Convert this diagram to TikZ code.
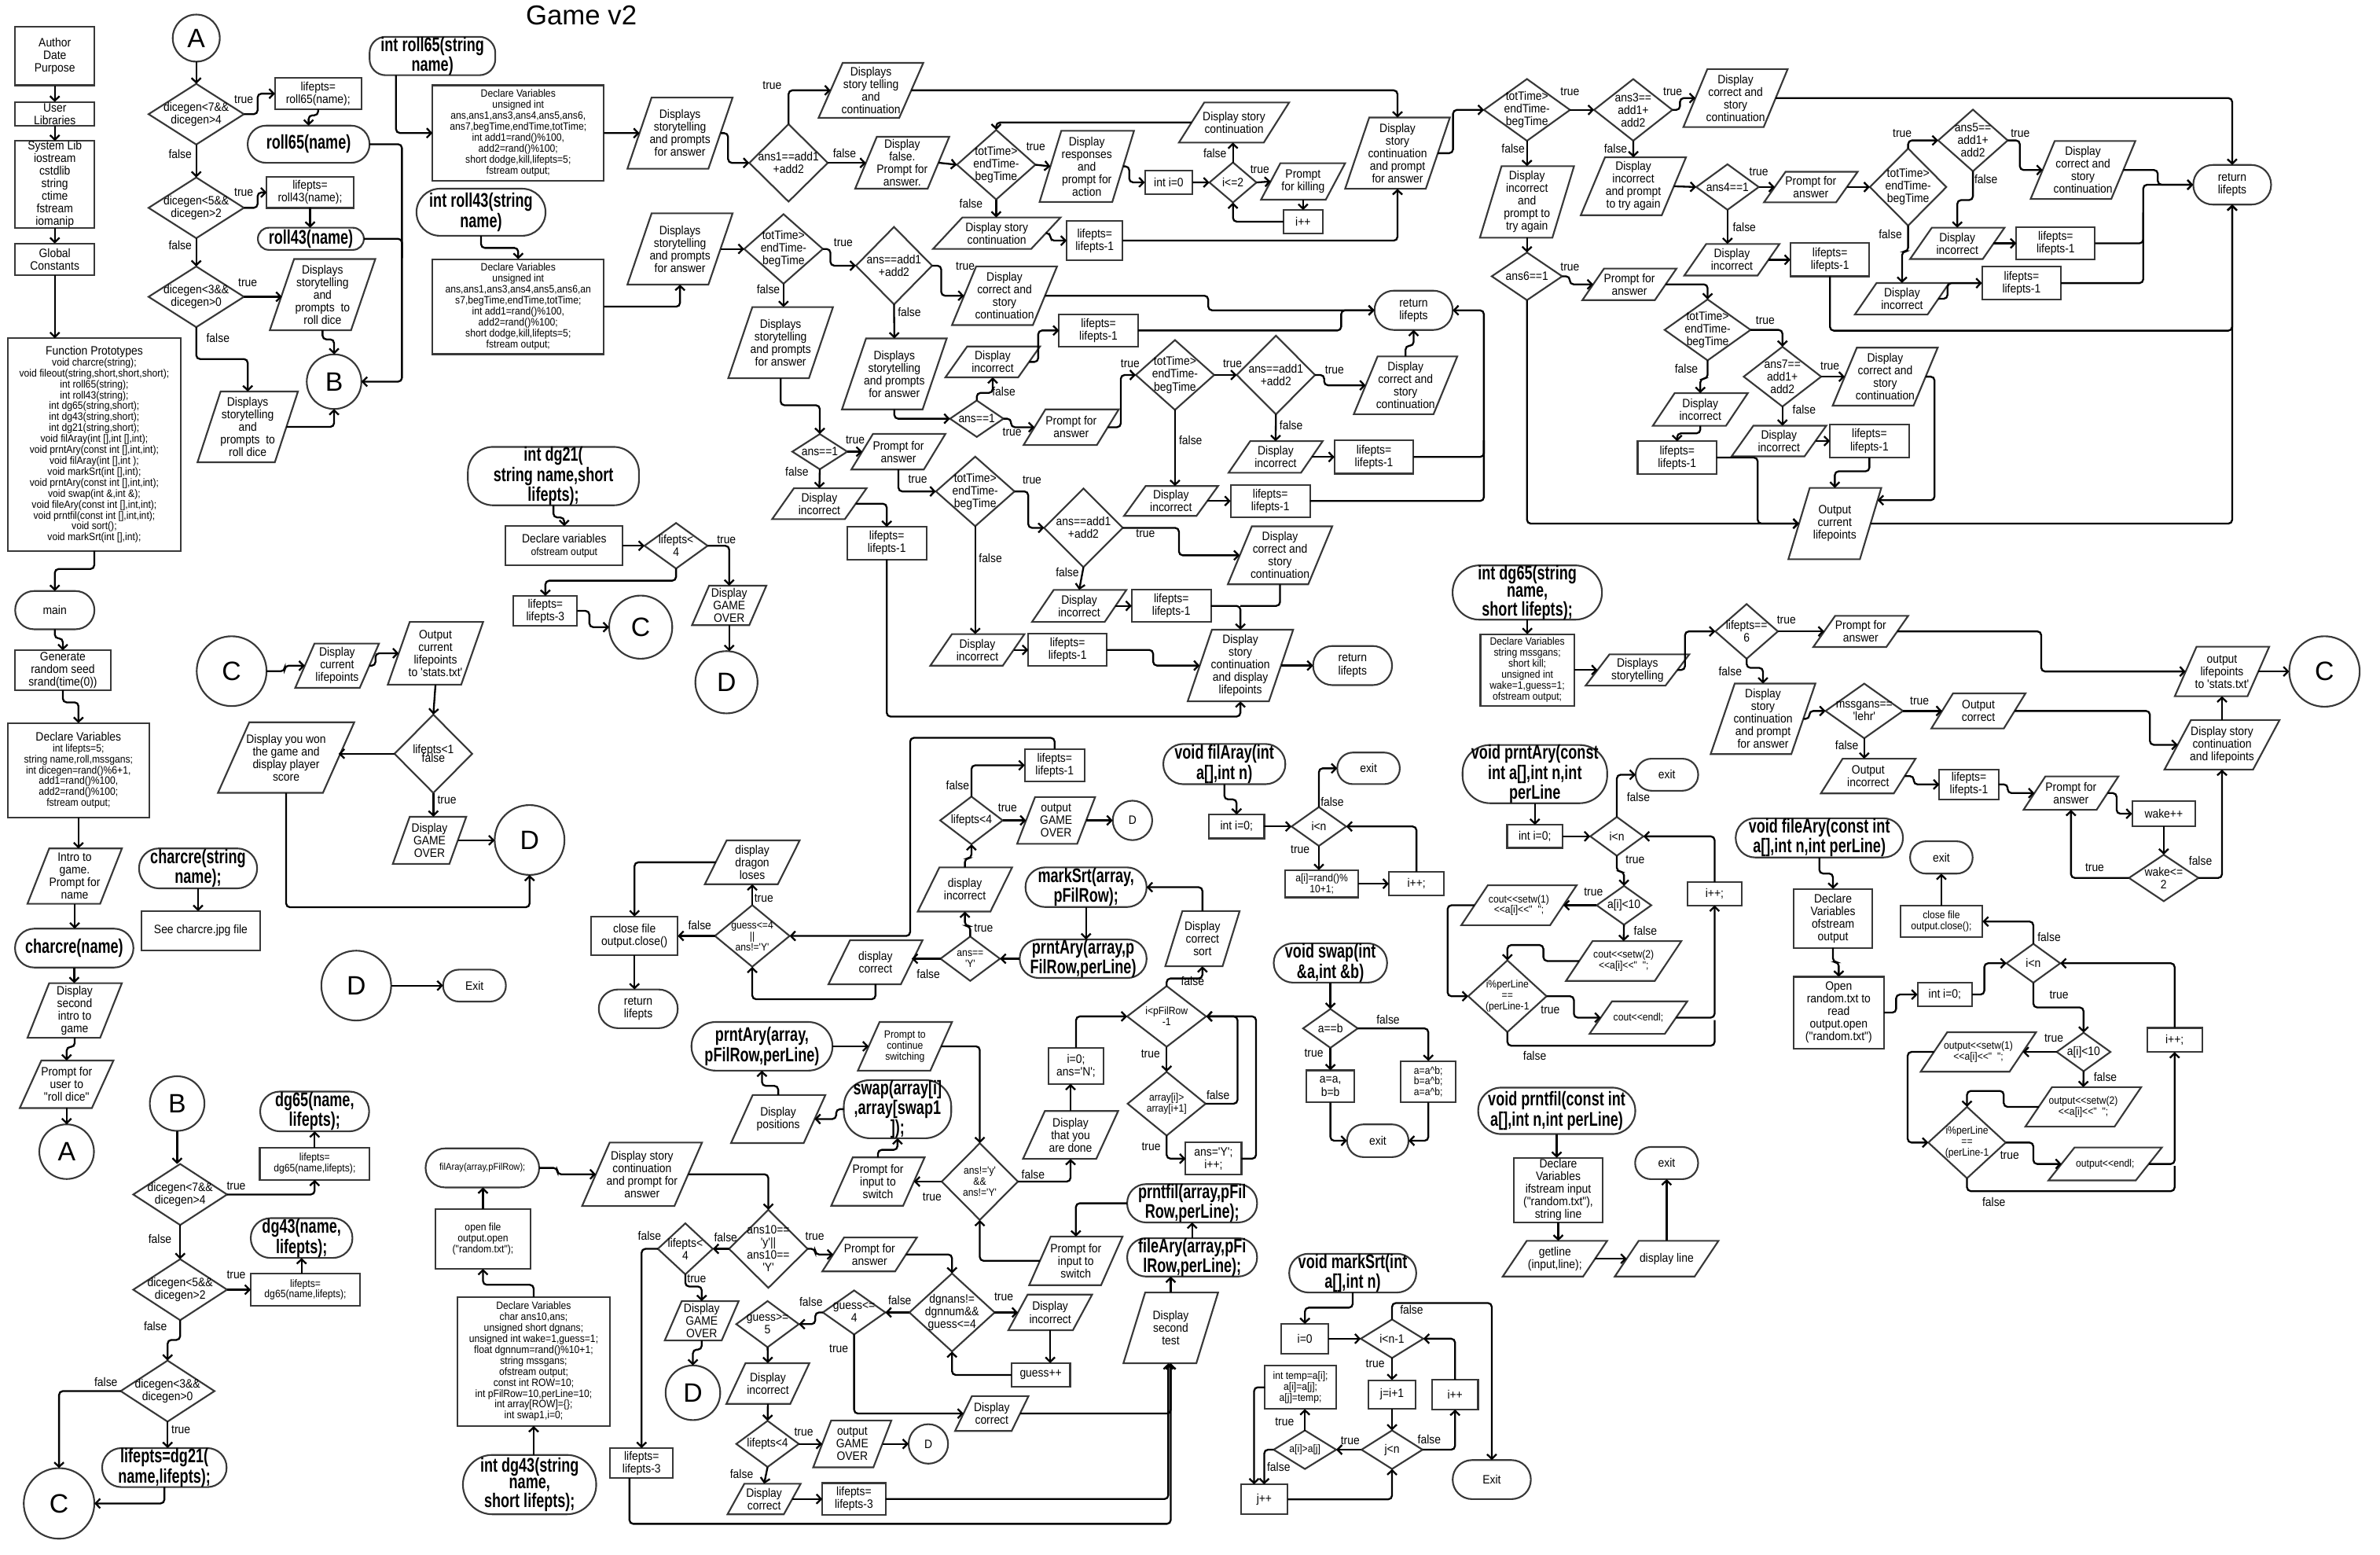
\documentclass[tikz,border=0pt]{standalone}
\usepackage{fontspec}
\setmainfont{Liberation Sans}
\newfontfamily\basefam{Liberation Sans}[FakeStretch=0.9]
\newfontfamily\titlefam{Liberation Sans}[FakeStretch=0.72]
\newfontfamily\plainfam{Liberation Sans}
\usetikzlibrary{shapes.geometric,arrows.meta,calc}
\newcommand\FN{\basefam\fontsize{8}{8.3}\selectfont}
\newcommand\FS{\basefam\fontsize{7}{7.2}\selectfont}
\newcommand\FX{\basefam\fontsize{6.4}{6.8}\selectfont}
\newcommand\FT{\titlefam\bfseries\fontsize{13}{11.2}\selectfont}
\newcommand\FC{\plainfam\fontsize{17.5}{18}\selectfont}
\newcommand\FG{\plainfam\fontsize{18}{18}\selectfont}
\newcounter{lbl}
% process box
\newcommand\BX[7][\FN]{\node[bx,font=#1,minimum width=#5pt,minimum height=#6pt] (#2) at (#3,#4) {#7};}
% terminal (stadium)
\newcommand\TM[7][\FN]{\pgfmathsetmacro\tmr{#6/2-0.1}\node[tm,font=#1,rounded corners=\tmr pt,minimum width=#5pt,minimum height=#6pt] (#2) at (#3,#4) {#7};}
% input/output parallelogram
\newcommand\IO[7][\FN]{\pgfmathsetmacro\ioo{0.23*#5}\pgfmathsetmacro\iow{#5-\ioo}\pgfmathsetmacro\ioh{\ioo/2}%
  \node[txt,font=#1,minimum width=\iow pt,minimum height=#6pt] (#2) at (#3,#4) {#7};%
  \draw[shp] ([xshift=-\ioh pt]#2.south west) -- ([xshift=-\ioh pt]#2.south east) -- ([xshift=\ioh pt]#2.north east) -- ([xshift=\ioh pt]#2.north west) -- cycle;}
% decision
\newcommand\DM[7][\FN]{\node[dm,minimum width=#5pt,minimum height=#6pt] (#2) at (#3,#4) {};\node[txt,font=#1] (#2-t) at (#2.center) {#7};}
% connector circle
\newcommand\CI[6][\FC]{\node[ci,font=#1,minimum size=#5pt] (#2) at (#3,#4) {#6};}
% branch label
\newcommand\LB[3]{\stepcounter{lbl}\node[lab] (lb\arabic{lbl}) at (#1,#2) {#3};}

\begin{document}
\begin{tikzpicture}[x=1pt,y=-1pt,
  shp/.style={draw=black!78,line width=1.1pt},
  bx/.style={shp,rectangle,inner sep=0pt,outer sep=0pt,align=center},
  tm/.style={shp,rectangle,inner sep=0pt,outer sep=0pt,align=center},
  dm/.style={shp,diamond,inner sep=0pt,outer sep=0pt},
  ci/.style={shp,circle,inner sep=0pt,outer sep=0pt},
  txt/.style={inner sep=0pt,outer sep=0pt,align=center},
  lab/.style={inner sep=0pt,font=\FN},
  ar/.style={draw=black,line width=1.2pt,rounded corners=2.5pt,-{Straight Barb[length=3pt,width=6.2pt]}},
  nl/.style={draw=black,line width=1.2pt,rounded corners=2.5pt}]
\fill[white] (0,0) rectangle (1568,1024);
\useasboundingbox (0,0) rectangle (1568,1024);

\node[font=\FG,inner sep=0pt] (title) at (383,10) {Game v2};

% ---------------- program header and main ----------------
\BX{auth}{36.1}{36.8}{52.2}{38.8}{Author\\Date\\Purpose}
\BX{ulib}{36.1}{75}{52.2}{15.7}{User\\Libraries}
\BX{slib}{36.1}{121.6}{52.2}{57.5}{System Lib\\iostream\\cstdlib\\string\\ctime\\fstream\\iomanip}
\BX{glob}{36.1}{170.9}{52.2}{21}{Global\\Constants}
\BX[\FS]{fp}{62.1}{292.8}{114.2}{140}{{\FN Function Prototypes}\\void charcre(string);\\void fileout(string,short,short,short);\\int roll65(string);\\int roll43(string);\\int dg65(string,short);\\int dg43(string,short);\\int dg21(string,short);\\void filAray(int [],int [],int);\\void prntAry(const int [],int,int);\\void filAray(int [],int );\\void markSrt(int [],int);\\void prntAry(const int [],int,int);\\void swap(int \&,int \&);\\void fileAry(const int [],int,int);\\void prntfil(const int [],int,int);\\void sort();\\void markSrt(int [],int);}
\draw[ar] (auth.south) -- (ulib.north);
\draw[ar] (ulib.south) -- (slib.north);
\draw[ar] (slib.south) -- (glob.north);
\draw[ar] (glob.south) -- (glob.south |- fp.north);

\TM{main}{36.1}{401.9}{52.2}{25.2}{main}
\draw[ar] (fp.south) -- ++(0,12) -| (main.north);
\BX{gen}{41.4}{441.5}{62.8}{26.3}{Generate\\random seed\\srand(time(0))}
\draw[ar] (main.south) -- ++(0,6) -| (gen.north);
\BX[\FS]{mdecl}{51.7}{507.4}{93.4}{62.2}{{\FN Declare Variables}\\int lifepts=5;\\string name,roll,mssgans;\\int dicegen=rand()\%6+1,\\add1=rand()\%100,\\add2=rand()\%100;\\fstream output;}
\draw[ar] (gen.south) -- ++(0,8) -| (mdecl.north);
\IO{intro}{49.2}{577.1}{62.2}{36.4}{Intro to\\game.\\Prompt for\\name}
\draw[ar] (mdecl.south) -- (mdecl.south |- intro.north);
\TM[\FT]{charcre}{48.9}{624.5}{78}{25.6}{charcre(name)}
\draw[ar] (intro.south) -- (intro.south |- charcre.north);
\IO{disp2}{49.2}{665.6}{62.2}{36}{Display\\second\\intro to\\game}
\draw[ar] (charcre.south) -- (charcre.south |- disp2.north);
\IO{rolld}{43.9}{714.2}{61.7}{31.3}{Prompt for\\user to\\"roll dice"}
\draw[ar] (disp2.south) -- ++(0,6) -| (rolld.north);
\CI{A2}{43.9}{758.6}{36}{A}
\draw[ar] (rolld.south) -- (A2.north);

\TM[\FT]{ccdef}{130.5}{572}{77.8}{26.3}{charcre(string\\name);}
\BX{ccjpg}{132.3}{613.1}{77.8}{25.9}{See charcre.jpg file}
\draw[ar] (ccdef.south) -- (ccdef.south |- ccjpg.north);

% ---------------- connector A ----------------
\CI{A1}{129.3}{25.1}{31}{A}
\DM{d1}{129.3}{75.2}{62.8}{40}{dicegen<7\&\&\\dicegen>4}
\draw[ar] (A1.south) -- (d1.north);
\BX{r65as}{209.6}{61.7}{56.8}{20.5}{lifepts=\\roll65(name);}
\draw[ar] (d1.east) -- ++(9,0) |- (r65as.west);
\TM[\FT]{r65call}{203.3}{95}{80.3}{24.5}{roll65(name)}
\draw[ar] (r65as.south) -- ++(0,4) -| (r65call.north);
\DM{d2}{129.3}{136.9}{62.8}{40}{dicegen<5\&\&\\dicegen>2}
\draw[ar] (d1.south) -- (d2.north);
\BX{r43as}{204.3}{126.8}{57.2}{20.3}{lifepts=\\roll43(name);}
\draw[ar] (d2.east) -- ++(9,0) |- (r43as.west);
\TM[\FT]{r43call}{204.8}{157.3}{69.8}{14.6}{roll43(name)}
\draw[ar] (r43as.south) -- (r43as.south |- r43call.north);
\DM{d3}{129.3}{195.5}{62.8}{40}{dicegen<3\&\&\\dicegen>0}
\draw[ar] (d2.south) -- (d3.north);
\IO{sto1}{212.5}{194.1}{69.5}{46.9}{Displays\\storytelling\\and\\prompts~~to\\roll dice}
\draw[ar] (d3.east) -- (d3.east -| sto1.west);
\CI{B1}{220.1}{251.4}{36}{B}
\draw[ar] (sto1.south) -- ++(0,6) -| (B1.north);
\IO{sto2}{163.2}{281.2}{66.2}{46.6}{Displays\\storytelling\\and\\prompts~~to\\roll dice}
\draw[ar] (d3.south) -- ++(0,21) -| (sto2.north);
\draw[ar] (sto2.east) -| (B1.south);
\draw[ar] (r65call.east) -- (264.8,95) |- (B1.east);
\draw[nl] (r43call.east) -- (264.8,157.3) -- (264.8,170);
\LB{160.6}{65.8}{true}\LB{118.7}{101.6}{false}\LB{160.6}{126.4}{true}
\LB{118.7}{161.8}{false}\LB{163.2}{186.4}{true}\LB{143.6}{222.4}{false}

% ---------------- int roll65(string name) ----------------
\TM[\FT]{r65def}{284.9}{36.9}{82.8}{21.3}{int roll65(string\\name)}
\BX[\FS]{r65dv}{341.4}{87.6}{112.9}{62.8}{Declare Variables\\unsigned int\\ans,ans1,ans3,ans4,ans5,ans6,\\ans7,begTime,endTime,totTime;\\int add1=rand()\%100,\\add2=rand()\%100;\\short dodge,kill,lifepts=5;\\fstream output;}
\draw[ar] ([xshift=-24pt]r65def.south) |- (r65dv.west);
\IO{r65s1}{448}{87.7}{69.3}{46.9}{Displays\\storytelling\\and prompts\\for answer}
\draw[ar] (r65dv.east) -- (r65s1.west);
\DM{a1}{519.5}{107.3}{51.7}{51}{ans1==add1\\+add2}
\draw[ar] (r65s1.east) -- ++(5,0) |- (a1.west);
\IO{r65c1}{573.8}{59.5}{69}{36.2}{Displays\\story telling\\and\\continuation}
\draw[ar] (a1.north) |- (r65c1.west);
\IO{r65f}{594.4}{107.2}{62}{34.2}{Display\\false.\\Prompt for\\answer.}
\draw[ar] (a1.east) -- (a1.east -| r65f.west);
\DM{t1}{656.3}{108.5}{51.7}{45.8}{totTime>\\endTime-\\begTime}
\draw[ar] (r65f.east) -- (t1.west);
\IO{r65resp}{716}{109.6}{62.2}{46.9}{Display\\responses\\and\\prompt for\\action}
\draw[ar] (t1.east) -- (r65resp.west);
\BX{i0a}{770}{120.1}{31.5}{15.2}{int i=0}
\draw[ar] (r65resp.east) -- ++(4,0) |- (i0a.west);
\DM{ile2}{812.3}{120.2}{31}{26.4}{i<=2}
\draw[ar] (i0a.east) -- (ile2.west);
\IO{r65sc}{813}{80.7}{72.6}{26.4}{Display story\\continuation}
\draw[ar] (ile2.north) -- (ile2.north |- r65sc.south);
\IO{pkill}{858.5}{119.5}{55.4}{24}{Prompt\\for killing}
\draw[ar] (ile2.east) -- (pkill.west);
\BX{ipp1}{858.5}{146}{26}{15.4}{i++}
\draw[ar] (pkill.south) -- (ipp1.north);
\draw[ar] (ipp1.west) -| (ile2.south);
\draw[ar] (r65sc.west) -| (t1.north);
\IO{r65sc2}{656.7}{153.6}{84}{20.7}{Display story\\continuation}
\draw[ar] (t1.south) -- (t1.south |- r65sc2.north);
\BX{lp1}{721.2}{158.5}{36.9}{26.2}{lifepts=\\lifepts-1}
\draw[ar] (r65sc2.east) -- ++(3,0) |- (lp1.west);
\IO{r65big}{920.7}{100.9}{69}{46.9}{Display\\story\\continuation\\and prompt\\for answer}
\draw[ar] (lp1.east) -| (r65big.south);
\draw[ar] (r65c1.east) -| (r65big.north);
\DM{t2}{1006}{72.4}{56.7}{40.7}{totTime>\\endTime-\\begTime}
\draw[ar] (r65big.east) -- ++(10,0) |- (t2.west);
\DM{a3}{1076}{72.4}{51.6}{40.6}{ans3==\\add1+\\add2}
\draw[ar] (t2.east) -- (a3.west);
\IO{c3}{1143.4}{64.6}{68.7}{38.2}{Display\\correct and\\story\\continuation}
\draw[ar] (a3.east) -- ++(5,0) |- (c3.west);
\TM{ret65}{1470.6}{121.7}{51.3}{26.1}{return\\lifepts}
\draw[ar] (c3.east) -| (ret65.north);
\IO{inc3}{1006}{133}{62}{47.1}{Display\\incorrect\\and\\prompt to\\try again}
\draw[ar] (t2.south) -- (inc3.north);
\IO{inc3b}{1076.1}{122.7}{69.3}{38.1}{Display\\incorrect\\and prompt\\to try again}
\draw[ar] (a3.south) -- (inc3b.north);
\DM{a4}{1138.1}{123.2}{41.2}{30}{ans4==1}
\draw[ar] (inc3b.east) -- (a4.west);
\IO{pa4}{1193}{123.2}{61.7}{20.1}{Prompt for\\answer}
\draw[ar] (a4.east) -- (pa4.west);
\DM{t4}{1257.1}{123.2}{50.4}{50.8}{totTime>\\endTime-\\begTime}
\draw[ar] (pa4.east) -- (t4.west);
\DM{a5}{1299.8}{92.5}{45.8}{40.6}{ans5==\\add1+\\add2}
\draw[ar] (t4.north) |- (a5.west);
\IO{c5}{1372.3}{112}{69}{38.2}{Display\\correct and\\story\\continuation}
\draw[ar] (a5.east) -- ++(8,0) |- (c5.west);
\draw[ar] (c5.east) -| (1421.6,121.7) -- (ret65.west);
\IO{inc5}{1289.5}{160.3}{62.2}{20.6}{Display\\incorrect}
\draw[ar] (a5.south) -- ++(0,19) -| (inc5.north);
\BX{lp5}{1354.3}{160.3}{51.8}{21}{lifepts=\\lifepts-1}
\draw[ar] (inc5.east) -- (lp5.west);
\draw[ar] (lp5.east) -| (1412,121.7) -- (ret65.west);
\IO{inc4}{1253.1}{196.8}{62.2}{20.8}{Display\\incorrect}
\draw[ar] (t4.south) -- ++(0,17) -| (inc4.north);
\BX{lp4}{1331.8}{186.5}{52}{21.5}{lifepts=\\lifepts-1}
\draw[ar] (inc4.east) -- ++(6,0) |- (lp4.west);
\draw[nl] (lp4.east) -| (1412,140);
\IO{inc4b}{1141}{171.1}{62.7}{20.8}{Display\\incorrect}
\draw[ar] (a4.south) -- (a4.south |- inc4b.north);
\BX{lp4b}{1205.6}{171.1}{52}{21.8}{lifepts=\\lifepts-1}
\draw[ar] (inc4b.east) -- (lp4b.west);
\draw[ar] (lp4b.south) |- (1470.6,217.8) -- (ret65.south);
\DM{a6}{1006}{182}{46.4}{31.4}{ans6==1}
\draw[ar] (inc3.south) -- (a6.north);
\IO{pa6}{1073.5}{187.3}{62}{20.8}{Prompt for\\answer}
\draw[ar] (a6.east) -- ++(5,0) |- (pa6.west);
\DM{t6}{1125}{217.3}{56.6}{40.2}{totTime>\\endTime-\\begTime}
\draw[ar] (pa6.east) -| (t6.north);
\DM{a7}{1174.3}{248.1}{51}{39.4}{ans7==\\add1+\\add2}
\draw[ar] (t6.east) -| (a7.north);
\IO{c7}{1242}{248.1}{69.2}{38.2}{Display\\correct and\\story\\continuation}
\draw[ar] (a7.east) -- (c7.west);
\IO{inc7}{1172}{290.5}{62.4}{20.2}{Display\\incorrect}
\draw[ar] (a7.south) -- (a7.south |- inc7.north);
\BX{lp7}{1231.6}{290.5}{52}{21.9}{lifepts=\\lifepts-1}
\draw[ar] (inc7.east) -- (lp7.west);
\IO{outlp}{1208.8}{344.9}{61.2}{47}{Output\\current\\lifepoints}
\draw[ar] (lp7.south) -- ++(0,9) -| (outlp.north);
\draw[ar] (c7.east) -- (1274.5,248.1) |- ($(outlp.east)+(4.6,-15.4)$);
\draw[ar] (outlp.east) -| (ret65.south);
\draw[ar] (a6.south) |- (outlp.west);
\IO{inc6}{1120.2}{269.7}{62.6}{21.5}{Display\\incorrect}
\draw[ar] (t6.south) -- ++(0,12) -| (inc6.north);
\BX{lp6}{1104.9}{301.4}{52}{21.5}{lifepts=\\lifepts-1}
\draw[ar] (inc6.south) -- ++(0,5) -| (lp6.north);
\draw[ar] (lp6.east) -- (1158,301.4) |- (outlp.west);
\LB{508.7}{56.2}{true}\LB{556.4}{100.9}{false}\LB{682.4}{96.6}{true}\LB{639.7}{134.1}{false}
\LB{800.4}{101}{false}\LB{830}{111.4}{true}\LB{1034.3}{60.6}{true}\LB{1102}{60.6}{true}
\LB{996.9}{97.8}{false}\LB{1064.4}{97.8}{false}\LB{1158.7}{113.3}{true}\LB{1149.2}{149.6}{false}
\LB{1034.3}{175.7}{true}\LB{1163}{211}{true}\LB{1111}{242.8}{false}\LB{1253.2}{87.9}{true}
\LB{1331}{87.9}{true}\LB{1308.4}{118.1}{false}\LB{1245.4}{154.2}{false}\LB{1205.6}{241.3}{true}
\LB{1188.6}{269.8}{false}

% ---------------- int roll43(string name) ----------------
\TM[\FT]{r43def}{316.9}{139.8}{85}{31}{int roll43(string\\name)}
\BX[\FS]{r43dv}{341.4}{202}{112.9}{62.6}{Declare Variables\\unsigned int\\ans,ans1,ans3,ans4,ans5,ans6,an\\s7,begTime,endTime,totTime;\\int add1=rand()\%100,\\add2=rand()\%100;\\short dodge,kill,lifepts=5;\\fstream output;}
\draw[ar] (r43def.south) -- ++(0,8) -| (r43dv.north);
\IO{r43s1}{448}{164}{69.3}{46.9}{Displays\\storytelling\\and prompts\\for answer}
\draw[ar] (r43dv.east) -| (r43s1.south);
\DM{t11}{516.2}{164}{51.8}{45.8}{totTime>\\endTime-\\begTime}
\draw[ar] (r43s1.east) -- (t11.west);
\DM{b1}{589}{175}{50.2}{51}{ans==add1\\+add2}
\draw[ar] (t11.east) -- ++(5,0) |- (b1.west);
\IO{bc1}{661.8}{194.8}{69.2}{38.6}{Display\\correct and\\story\\continuation}
\draw[ar] (b1.east) -- ++(6,0) |- (bc1.west);
\TM{ret43}{931.3}{204.4}{51.5}{25.9}{return\\lifepts}
\draw[ar] (bc1.east) -- (796,194.8) |- (ret43.west);
\IO{bs2}{589.2}{246.3}{69}{46.7}{Displays\\storytelling\\and prompts\\for answer}
\draw[ar] (b1.south) -- (bs2.north);
\DM{e1}{643.5}{275.8}{35.2}{24}{ans==1}
\draw[ar] (bs2.south) |- (e1.west);
\IO{einc}{654}{238.4}{62.3}{20.3}{Display\\incorrect}
\draw[ar] (e1.north) -- ++(0,-5) -| (einc.south);
\BX{elp}{723.7}{217.7}{52}{21.1}{lifepts=\\lifepts-1}
\draw[ar] (einc.east) -- ++(6,0) |- (elp.west);
\draw[ar] (elp.east) -| (883.6,204.4) -- (ret43.west);
\IO{epa}{705.7}{281.4}{62.7}{23.5}{Prompt for\\answer}
\draw[ar] (e1.east) -- ++(5,0) |- (epa.west);
\DM{t12}{774.1}{247}{51.6}{46}{totTime>\\endTime-\\begTime}
\draw[ar] (epa.east) -- (738.4,281.4) |- (t12.west);
\DM{b2}{840.6}{247}{51.6}{51.8}{ans==add1\\+add2}
\draw[ar] (t12.east) -- (b2.west);
\IO{bc2}{926}{253.8}{68.2}{38.1}{Display\\correct and\\story\\continuation}
\draw[ar] (b2.east) -- ++(6,0) |- (bc2.west);
\draw[ar] (bc2.north) -- ++(0,-7) -| (ret43.south);
\IO{binc2}{840.4}{301}{62}{20.8}{Display\\incorrect}
\draw[ar] (b2.south) -- (binc2.north);
\BX{blp2}{905.2}{301}{52}{22}{lifepts=\\lifepts-1}
\draw[ar] (binc2.east) -- (blp2.west);
\draw[ar] (blp2.east) -| (977.6,204.4) -- (ret43.east);
\IO{tinc2}{771.5}{330}{62}{19.7}{Display\\incorrect}
\draw[ar] (t12.south) -- (t12.south |- tinc2.north);
\BX{tlp2}{836.9}{330}{52.3}{21.3}{lifepts=\\lifepts-1}
\draw[ar] (tinc2.east) -- (tlp2.west);
\draw[nl] (tlp2.east) -| (977.6,290);
\IO{ts3}{514.3}{225.7}{69}{46.9}{Displays\\storytelling\\and prompts\\for answer}
\draw[ar] (t11.south) -- (t11.south |- ts3.north);
\DM{e2}{540.1}{297.5}{36.2}{23.2}{ans==1}
\draw[ar] (ts3.south) -- ++(0,17.8) -| (e2.north);
\IO{epa2}{591.9}{297.5}{62}{23.5}{Prompt for\\answer}
\draw[ar] (e2.east) -- (epa2.west);
\IO{einc2}{539.8}{331.8}{62.2}{20.3}{Display\\incorrect}
\draw[ar] (e2.south) -- (einc2.north);
\BX{elp2}{584.2}{357.8}{52.3}{21.5}{lifepts=\\lifepts-1}
\draw[ar] (einc2.east) -| (elp2.north);
\IO{fin}{817.2}{438.4}{69.5}{47.2}{Display\\story\\continuation\\and display\\lifepoints}
\draw[ar] (elp2.south) -- (584.2,472) -| (fin.south);
\DM{t13}{642.5}{323.7}{51.8}{45.8}{totTime>\\endTime-\\begTime}
\draw[ar] (epa2.south) |- (t13.west);
\DM{b3}{713.8}{347.7}{51.8}{51.8}{ans==add1\\+add2}
\draw[ar] (t13.east) -- ++(9,0) |- (b3.west);
\IO{bc3}{843.3}{365.8}{68.8}{38.2}{Display\\correct and\\story\\continuation}
\draw[ar] (b3.east) -- (776.7,347.7) |- (bc3.west);
\IO{binc3}{711}{399.1}{62.2}{21.1}{Display\\incorrect}
\draw[ar] (b3.south) -- (binc3.north);
\BX{blp3}{771.7}{399.1}{52.2}{21.3}{lifepts=\\lifepts-1}
\draw[ar] (binc3.east) -- (blp3.west);
\draw[ar] (blp3.east) -| (fin.north);
\draw[nl] (bc3.south) |- (817.2,399.1);
\IO{tinc3}{643.9}{428.1}{62}{20.8}{Display\\incorrect}
\draw[ar] (t13.south) -- (t13.south |- tinc3.north);
\BX{tlp3}{703.3}{428.1}{51.7}{21.3}{lifepts=\\lifepts-1}
\draw[ar] (tinc3.east) -- (tlp3.west);
\draw[ar] (tlp3.east) -- (759.7,428.1) |- (fin.west);
\TM{ret43b}{891.1}{438.4}{52}{25.8}{return\\lifepts}
\draw[ar] (fin.east) -- (ret43b.west);
\LB{555.6}{159.6}{true}\LB{636}{175.5}{true}\LB{599.1}{205.6}{false}\LB{661.3}{257.9}{false}
\LB{666.8}{284.5}{true}\LB{744.6}{239.4}{true}\LB{812}{239.3}{true}\LB{879.2}{243.5}{true}
\LB{850.6}{280.2}{false}\LB{784.4}{290.2}{false}\LB{506.2}{190.8}{false}\LB{563.4}{289.9}{true}
\LB{525}{310.7}{false}\LB{604.6}{315.5}{true}\LB{679.9}{316.1}{true}\LB{754.7}{351.2}{true}
\LB{703.2}{377.1}{false}\LB{652.5}{367.8}{false}

% ---------------- int dg21 ----------------
\TM[\FT]{dg21}{364.6}{313.6}{112.7}{33.4}{int dg21(\\string name,short\\lifepts);}
\BX{dg21dv}{371.7}{359.5}{77.2}{25.9}{Declare variables\\{\FS ofstream output}}
\draw[ar] (dg21.south) -- ++(0,8) -| (dg21dv.north);
\DM{dl4}{445.4}{359.5}{41.6}{30}{lifepts<\\4}
\draw[ar] (dg21dv.east) -- (dl4.west);
\IO{dgo}{480.4}{398.8}{49}{26}{Display\\GAME\\OVER}
\draw[ar] (dl4.east) -| (dgo.north);
\CI{D1}{478.6}{449.4}{41}{D}
\draw[ar] (dgo.south) -- (dgo.south |- D1.north);
\BX{dlp3}{359.3}{402.4}{42}{19.8}{lifepts=\\lifepts-3}
\draw[ar] (dl4.south) -- ++(0,8) -| (dlp3.north);
\CI{C1}{422.1}{413.1}{41.6}{C}
\draw[ar] (dlp3.east) -- ++(8,0) |- (C1.west);
\LB{478.6}{355.3}{true}

% ---------------- connector C (end of turn) ----------------
\CI{C2}{152.6}{442.1}{46}{C}
\IO{dcl}{222.1}{438.5}{55.2}{29.2}{Display\\current\\lifepoints}
\draw[ar] (C2.east) -- ++(12,0) |- (dcl.west);
\IO{ocl}{286.9}{430.3}{62.8}{41.3}{Output\\current\\lifepoints\\to 'stats.txt'}
\draw[ar] (dcl.east) -- ++(4,0) |- (ocl.west);
\DM{dlt1}{285.5}{496.5}{51.2}{51.6}{lifepts<1\\[-2.5pt]false}
\draw[ar] (ocl.south) -- (dlt1.north);
\IO{dwon}{188.5}{499}{89.8}{46.5}{Display you won\\the game and\\display player\\score}
\draw[ar] (dlt1.west) -- (dlt1.west -| dwon.east);
\IO{dgo2}{283}{553.5}{48.4}{31}{Display\\GAME\\OVER}
\draw[ar] (dlt1.south) -- (dlt1.south |- dgo2.north);
\CI{D2}{348.9}{553.3}{46}{D}
\draw[ar] (dgo2.east) -- (dgo2.east -| D2.west);
\draw[ar] (dwon.south) -- (188.5,597.6) -| (D2.south);
\CI{D3}{234.7}{649.2}{46}{D}
\TM{exit1}{312.6}{649.2}{41.4}{21}{Exit}
\draw[ar] (D3.east) -- (exit1.west);
\LB{294.4}{526.8}{true}

% ---------------- connector B ----------------
\CI{B2}{116.7}{726.9}{36}{B}
\DM{e1b}{118.7}{786.8}{61.8}{40.2}{dicegen<7\&\&\\dicegen>4}
\draw[ar] (B2.south) -- (B2.south |- e1b.north);
\BX[\FS]{dg65as}{207.3}{766.5}{72.3}{21.3}{lifepts=\\dg65(name,lifepts);}
\draw[ar] (e1b.east) -| (dg65as.south);
\TM[\FT]{dg65call}{207.3}{732.1}{71.8}{26.2}{dg65(name,\\lifepts);}
\draw[ar] (dg65as.north) -- (dg65call.south);
\DM{e2b}{118.7}{849.5}{61.8}{40.2}{dicegen<5\&\&\\dicegen>2}
\draw[ar] (e1b.south) -- (e2b.north);
\BX[\FS]{dg43as}{201.2}{849.5}{72}{20.8}{lifepts=\\dg65(name,lifepts);}
\draw[ar] (e2b.east) -- (dg43as.west);
\TM[\FT]{dg43call}{198.7}{815.5}{67}{26.2}{dg43(name,\\lifepts);}
\draw[ar] (dg43call.south |- dg43as.north) -- (dg43call.south);
\DM{e3b}{110.4}{916.3}{61.8}{40.2}{dicegen<3\&\&\\dicegen>0}
\draw[ar] (e2b.south) -- ++(0,13) -| (e3b.north);
\CI{C3}{38.9}{990.3}{46.5}{C}
\draw[ar] (e3b.west) -| (C3.north);
\TM[\FT]{dg21call}{108.3}{966.7}{82}{25.7}{lifepts=dg21(\\name,lifepts);}
\draw[ar] (e3b.south) -- (e3b.south |- dg21call.north);
\draw[ar] (dg21call.south) |- (C3.east);
\LB{155.6}{781}{true}\LB{105.4}{815.9}{false}\LB{155.6}{839.8}{true}
\LB{102.4}{873.8}{false}\LB{69.8}{910.2}{false}\LB{119.2}{941.5}{true}

% ---------------- int dg43 ----------------
\TM[\FT]{dg43def}{348.9}{977.9}{87.8}{39.1}{int dg43(string\\name,\\short lifepts);}
\BX[\FS]{dg43dv}{351.6}{896.8}{100.8}{85}{Declare Variables\\char ans10,ans;\\unsigned short dgnans;\\unsigned int wake=1,guess=1;\\float dgnnum=rand()\%10+1;\\string mssgans;\\ofstream output;\\const int ROW=10;\\int pFilRow=10,perLine=10;\\int array[ROW]=\{\};\\int swap1,i=0;}
\draw[ar] (dg43dv.south |- dg43def.north) -- (dg43dv.south);
\BX[\FS]{ofile}{318.2}{816.2}{62.5}{39.2}{open file\\output.open\\("random.txt");}
\draw[ar] (dg43dv.north) -- ++(0,-8) -| (ofile.south);
\TM[\FX]{fcall}{317.8}{769.3}{74.8}{25.7}{filAray(array,pFilRow);}
\draw[ar] (ofile.north) -- (ofile.north |- fcall.south);
\IO{dsc}{423}{773.5}{79}{41.8}{Display story\\continuation\\and prompt for\\answer}
\draw[ar] (fcall.east) -- ++(12,0) |- (dsc.west);
\DM{a10}{506.2}{822.6}{51.8}{51.4}{ans10==\\'y'||\\ans10==\\'Y'}
\draw[ar] (dsc.east) -| (a10.north);
\IO{pa10}{572.9}{826.3}{62.3}{22.3}{Prompt for\\answer}
\draw[ar] (a10.east) -- ++(5,0) |- (pa10.west);
\DM{dgn}{627.2}{864.5}{56.2}{51.4}{dgnans!=\\dgnnum\&\&\\guess<=4}
\draw[ar] (pa10.east) -| (dgn.north);
\IO{dinc}{691.9}{864.5}{55.2}{23.5}{Display\\incorrect}
\draw[ar] (dgn.east) -- (dinc.west);
\BX{gpp}{685.7}{905.7}{38.7}{15.7}{guess++}
\draw[ar] (dinc.south) -- (dinc.south |- gpp.north);
\draw[ar] (gpp.west) -| (dgn.south);
\DM{gl4}{562.7}{864.5}{41.2}{29}{guess<=\\4}
\draw[ar] (dgn.west) -- (gl4.east);
\DM{gg5}{505.7}{872.2}{41.2}{30.4}{guess>=\\5}
\draw[ar] (gl4.west) -- ++(-5,0) |- (gg5.east);
\IO{dcor}{653.4}{931.1}{48.4}{23}{Display\\correct}
\draw[ar] (gl4.south) |- (dcor.west);
\IO{dsec}{771.3}{874.7}{62.4}{46.6}{Display\\second\\test}
\draw[ar] (dcor.east) -| (dsec.south);
\IO{ginc}{505.9}{911.3}{54.7}{26.8}{Display\\incorrect}
\draw[ar] (gg5.south) -- (ginc.north);
\DM{gl4b}{505.7}{951.1}{41.2}{30.4}{lifepts<4}
\draw[ar] (ginc.south) -- (gl4b.north);
\IO{gover}{561.5}{951.1}{51.5}{30.9}{output\\GAME\\OVER}
\draw[ar] (gl4b.east) -- (gover.west);
\CI[\FN]{D4}{611.6}{951.1}{26}{D}
\draw[ar] (gover.east) -- (D4.west);
\IO{gcor}{503.4}{987.4}{48.2}{20.1}{Display\\correct}
\draw[ar] (gl4b.south) -- (gcor.north);
\BX{glp3}{562.6}{987.4}{41.7}{21}{lifepts=\\lifepts-3}
\draw[ar] (gcor.east) -- (glp3.west);
\draw[ar] (glp3.east) -| ([xshift=-1.6pt]dsec.south);
\DM{dl4b}{451.5}{822.6}{36.2}{33.6}{lifepts<\\4}
\draw[ar] (a10.west) -- (dl4b.east);
\IO{dgo3}{462.3}{870}{48.7}{25.9}{Display\\GAME\\OVER}
\draw[ar] (dl4b.south) -- ++(0,8) -| (dgo3.north);
\CI{D5}{456.5}{917.4}{36}{D}
\draw[ar] (dgo3.south) -- ++(0,6) -| (D5.north);
\BX{dlp3b}{422.7}{963.7}{41.4}{19.7}{lifepts=\\lifepts-3}
\draw[ar] (dl4b.west) -| (dlp3b.north);
\draw[ar] ([xshift=-8pt]dlp3b.south) -- ++(0,30.2) -| (dsec.south);
\LB{536.8}{814.1}{true}\LB{661.3}{854.3}{true}\LB{592.8}{856.5}{false}\LB{534.3}{857.5}{false}
\LB{552.6}{888.5}{true}\LB{529.5}{943.1}{true}\LB{488.6}{971}{false}\LB{478.1}{815.2}{false}
\LB{427.9}{814.1}{false}\LB{459}{842.5}{true}

% ---------------- swapping loop ----------------
\TM[\FT]{pa1}{502}{689.2}{92.9}{32}{prntAry(array,\\pFilRow,perLine)}
\IO[\FS]{pcs}{596.2}{689.2}{62}{32}{Prompt to\\continue\\switching}
\draw[ar] (pa1.east) -- (pcs.west);
\DM[\FS]{ayn}{645.5}{778.3}{50.2}{50.6}{ans!='y'\\\&\&\\ans!='Y'}
\draw[ar] (pcs.east) -| (ayn.north);
\IO{pis}{578.4}{778.3}{61.5}{31.8}{Prompt for\\input to\\switch}
\draw[ar] (ayn.west) -- (pis.east);
\TM[\FT]{swp}{591.3}{730.6}{70.8}{35.1}{swap(array[i]\\,array[swap1\\]);}
\draw[ar] (pis.north) -- ++(0,-5) -| (swp.south);
\IO{dpos}{512.7}{737.1}{62.2}{31.7}{Display\\positions}
\draw[ar] (swp.west) -- ++(-5,0) |- (dpos.east);
\draw[ar] (dpos.north) -- ++(0,-6) -| (pa1.south);
\IO{ddone}{705.3}{747.6}{62.7}{31.5}{Display\\that you\\are done}
\draw[ar] (ayn.east) -| (ddone.south);
\BX{i0n}{708.9}{702}{36.4}{23.9}{i=0;\\ans='N';}
\draw[ar] (ddone.north) -- (ddone.north |- i0n.south);
\DM[\FS]{ipf}{768.6}{669.5}{52}{40}{i<pFilRow\\-1}
\draw[ar] (i0n.north) |- (ipf.west);
\IO{dcs}{792.2}{618.3}{49}{36.4}{Display\\correct\\sort}
\draw[ar] (ipf.north) -- ++(0,-5) -| (dcs.south);
\TM[\FT]{msc}{715.5}{584.4}{79.8}{26.1}{markSrt(array,\\pFilRow);}
\draw[ar] (dcs.north) |- (msc.east);
\TM[\FT]{pa2}{713.6}{631.5}{83.6}{25.4}{prntAry(array,p\\FilRow,perLine)}
\draw[ar] (msc.south) -- (msc.south |- pa2.north);
\DM[\FS]{aii}{768.6}{727}{51.4}{42}{array[i]>\\array[i+1]}
\draw[ar] (ipf.south) -- (aii.north);
\BX{ansy}{799.5}{763.2}{36.8}{21.2}{ans='Y';\\i++;}
\draw[ar] (aii.south) |- (ansy.west);
\draw[ar] (aii.east) -- (815.3,727) |- (ipf.east);
\draw[ar] (ansy.east) -- (827.5,763.2) |- (ipf.east);
\TM[\FT]{pfc}{785.4}{792.6}{85.6}{25}{prntfil(array,pFil\\Row,perLine);}
\IO{pis2}{708.8}{830.5}{61.5}{32}{Prompt for\\input to\\switch}
\draw[ar] (pfc.west) -| (pis2.north);
\draw[ar] (pis2.west) -| (ayn.south);
\TM[\FT]{fac}{785.4}{828.2}{85.6}{25.3}{fileAry(array,pFi\\lRow,perLine);}
\draw[ar] (fac.north) -- (pfc.south);
\draw[ar] (dsec.north) -- (dsec.north |- fac.south);
\LB{614.1}{788.4}{true}\LB{680.6}{773.8}{false}\LB{785.7}{646.2}{false}
\LB{758}{694.4}{true}\LB{758.4}{755.5}{true}\LB{802.5}{721.3}{false}

% ---------------- dragon guessing ----------------
\BX{cls}{418}{616.5}{57}{25.7}{close file\\output.close()}
\TM{retd}{420.5}{664.5}{52}{25.5}{return\\lifepts}
\draw[ar] (cls.south) -- (cls.south |- retd.north);
\DM[\FS]{gdi}{495.6}{616.5}{49.2}{40.6}{guess<=4\\||\\ans!='Y'}
\draw[ar] (gdi.west) -- (cls.east);
\IO{dragon}{495.6}{568}{62.5}{28.9}{display\\dragon\\loses}
\draw[ar] (gdi.north) -- (dragon.south);
\draw[ar] (dragon.west) -| (cls.north);
\DM{ll4}{640}{540.4}{41.2}{31.4}{lifepts<4}
\BX{llp}{694.8}{504.1}{39.4}{21.6}{lifepts=\\lifepts-1}
\draw[ar] (ll4.north) |- (llp.west);
\draw[ar] (llp.north) |- (599.6,486) |- (gdi.east);
\IO{lgo}{695.8}{540.4}{51.4}{30.8}{output\\GAME\\OVER}
\draw[ar] (ll4.east) -- (lgo.west);
\CI[\FN]{D6}{746.1}{540.4}{26}{D}
\draw[ar] (lgo.east) -- (D6.west);
\IO{linc}{635.7}{585.9}{62.2}{29.1}{display\\incorrect}
\draw[ar] (linc.north) -- ++(0,-6) -| (ll4.south);
\DM[\FS]{ayq}{639.2}{631.5}{39.2}{29.2}{ans==\\'Y'}
\draw[ar] (ayq.north) -- ++(0,-7) -| (linc.south);
\IO{lcor}{576.8}{633.8}{62}{29}{display\\correct}
\draw[ar] (ayq.west) -- (ayq.west -| lcor.east);
\draw[ar] (lcor.south) -- (576.8,658.2) -| (gdi.south);
\draw[ar] (pa2.west) -- (ayq.east);
\LB{461}{609.4}{false}\LB{503.2}{591.6}{true}\LB{630.9}{517.2}{false}
\LB{663.8}{531.9}{true}\LB{648}{611.3}{true}\LB{611.6}{641.8}{false}

% ---------------- int dg65 ----------------
\TM[\FT]{dg65def}{1006.2}{390.3}{98.4}{35.5}{int dg65(string\\name,\\short lifepts);}
\BX[\FS]{dg65dv}{1006.2}{441.3}{61.8}{47.2}{Declare Variables\\string mssgans;\\short kill;\\unsigned int\\wake=1,guess=1;\\ofstream output;}
\draw[ar] (dg65def.south) -- (dg65dv.north);
\IO{dst}{1078.8}{441.3}{68.3}{20.6}{Displays\\storytelling}
\draw[ar] (dg65dv.east) -- (dst.west);
\DM{l6}{1150.7}{415.9}{41.2}{36}{lifepts==\\6}
\draw[ar] (dst.east) -- ++(5,0) |- (l6.west);
\IO{pl6}{1225.9}{415.9}{62.5}{20.5}{Prompt for\\answer}
\draw[ar] (l6.east) -- (pl6.west);
\IO{ols}{1463.9}{442.3}{62.2}{32.6}{output\\lifepoints\\to 'stats.txt'}
\draw[ar] (pl6.east) -- (1344.8,415.9) |- (ols.west);
\CI{C4}{1531.4}{442.3}{46.4}{C}
\draw[ar] (ols.east) -- (C4.west);
\IO{dsp}{1161.5}{473.5}{69}{46.5}{Display\\story\\continuation\\and prompt\\for answer}
\draw[ar] (l6.south) -- ++(0,6) -| (dsp.north);
\DM{msg}{1228.2}{468.3}{51}{36}{mssgans==\\'lehr'}
\draw[ar] (dsp.east) -- ++(4,0) |- (msg.west);
\IO{ocor}{1303.4}{468.3}{62}{23.1}{Output\\correct}
\draw[ar] (msg.east) -- (ocor.west);
\IO{dsl}{1463.9}{490.6}{75.8}{32.6}{Display story\\continuation\\and lifepoints}
\draw[ar] (ocor.east) -- (1416.4,468.3) |- (dsl.west);
\draw[ar] (dsl.north) -- (ols.south);
\IO{oinc}{1230.8}{511.2}{62.4}{22.9}{Output\\incorrect}
\draw[ar] (msg.south) -- (msg.south |- oinc.north);
\BX{olp}{1297.2}{516.7}{39}{19.5}{lifepts=\\lifepts-1}
\draw[ar] (oinc.east) -- ++(6,0) |- (olp.west);
\IO{opa}{1364.4}{522.4}{62.5}{22}{Prompt for\\answer}
\draw[ar] (olp.east) -- ++(6,0) |- (opa.west);
\BX{wpp}{1425.5}{536}{41.6}{16.9}{wake++}
\draw[ar] (opa.east) -- ++(6,0) |- (wpp.west);
\DM{wl2}{1425.5}{578.3}{45.8}{30.6}{wake<=\\2}
\draw[ar] (wpp.south) -- (wl2.north);
\draw[ar] (wl2.west) -| (opa.south);
\draw[ar] (wl2.east) -| (dsl.south);
\LB{1176.9}{408.5}{true}\LB{1139.9}{442.2}{false}\LB{1264.6}{461.6}{true}
\LB{1216.7}{490.7}{false}\LB{1380}{571.3}{true}\LB{1449.7}{567.1}{false}

% ---------------- void filAray ----------------
\TM[\FT]{fad}{806.6}{503.3}{80.4}{26.5}{void filAray(int\\a[],int n)}
\BX{fi0}{814.7}{544.4}{36.4}{15.7}{int i=0;}
\draw[ar] (fad.south) -- ++(0,10) -| (fi0.north);
\DM{fin1}{868.9}{544.4}{36}{25.6}{i<n}
\draw[ar] (fi0.east) -- (fin1.west);
\TM{fex}{901.6}{506.1}{41.2}{20.8}{exit}
\draw[ar] (fin1.north) |- (fex.west);
\BX[\FS]{fset}{870.8}{582.1}{47.9}{18}{a[i]=rand()\%\\10+1;}
\draw[ar] (fin1.south) -- (fin1.south |- fset.north);
\BX{fipp}{933.2}{582.1}{36.4}{15.7}{i++;}
\draw[ar] (fset.east) -- (fipp.west);
\draw[ar] (fipp.north) |- (fin1.east);
\LB{877.7}{528.2}{false}\LB{856.6}{559.7}{true}

% ---------------- void prntAry ----------------
\TM[\FT]{pad}{1011.2}{509.9}{95.3}{36.6}{void prntAry(const\\int a[],int n,int\\perLine}
\BX{pi0}{1011.2}{550.9}{36.6}{15.2}{int i=0;}
\draw[ar] (pad.south) -- (pi0.north);
\DM{pin}{1065.2}{550.9}{35}{25.6}{i<n}
\draw[ar] (pi0.east) -- (pin.west);
\TM{pex}{1098.2}{510.3}{41.2}{21.1}{exit}
\draw[ar] (pin.north) |- (pex.west);
\DM{plt}{1069.9}{596.3}{36}{25.6}{a[i]<10}
\draw[ar] (pin.south) -- ++(0,10.4) -| (plt.north);
\IO[\FS]{pw1}{1000.7}{596.3}{76}{26.3}{cout<<setw(1)\\<<a[i]<<"~~";}
\draw[ar] (plt.west) -- (pw1.east);
\IO[\FS]{pw2}{1069.7}{633}{76}{26.2}{cout<<setw(2)\\<<a[i]<<"~~";}
\draw[ar] (plt.south) -- (pw2.north);
\DM[\FS]{ppl}{993.1}{656.2}{51.6}{47.2}{i\%perLine\\==\\(perLine-1}
\draw[ar] (pw2.west) -- (1016.8,633) |- (993.1,622.5) -- (ppl.north);
\draw[ar] (pw1.west) -- (953.7,596.3) |- (ppl.west);
\IO[\FS]{pend}{1079.4}{670.3}{64.4}{21.4}{cout<<endl;}
\draw[ar] (ppl.east) -- (1036.9,656.2) |- (pend.west);
\BX{pipp}{1129.6}{588.7}{36}{15.3}{i++;}
\draw[ar] (pend.east) -| (pipp.south);
\draw[ar] (pipp.north) |- (pin.east);
\draw[nl] (ppl.south) |- (1129.6,688.8) -- (1129.6,672);
\LB{1079.4}{524.9}{false}\LB{1077.3}{566.4}{true}\LB{1049.8}{587.7}{true}
\LB{1084}{613.1}{false}\LB{1021.4}{665.2}{true}\LB{1011.1}{695.6}{false}

% ---------------- void swap ----------------
\TM[\FT]{swd}{876.5}{634.3}{74.7}{25.9}{void swap(int\\\&a,int \&b)}
\DM{sab}{876.5}{677.4}{36}{25.6}{a==b}
\draw[ar] (swd.south) -- (sab.north);
\BX{saa}{876.5}{715.6}{31.6}{21.2}{a=a,\\b=b}
\draw[ar] (sab.south) -- (saa.north);
\BX[\FS]{sxor}{941}{712.5}{36.3}{27.3}{a=a\textasciicircum b;\\b=a\textasciicircum b;\\a=a\textasciicircum b;}
\draw[ar] (sab.east) -| (sxor.north);
\TM{sex}{907.7}{751.4}{40.5}{21.5}{exit}
\draw[ar] (saa.south) |- (sex.west);
\draw[ar] (sxor.south) |- (sex.east);
\LB{865.6}{693.8}{true}\LB{914.5}{671.5}{false}

% ---------------- void prntfil ----------------
\TM[\FT]{pfd}{1025.6}{731.7}{103.5}{30.6}{void prntfil(const int\\a[],int n,int perLine)}
\BX{pfdv}{1026.6}{783.9}{58.5}{42.5}{Declare\\Variables\\ifstream input\\("random.txt"),\\string line}
\draw[ar] (pfd.south) -- (pfd.south |- pfdv.north);
\IO{gl}{1024.4}{829.1}{68.8}{23.5}{getline\\(input,line);}
\draw[ar] (pfdv.south) -- (pfdv.south |- gl.north);
\IO{dl}{1098}{829.1}{68.3}{23.5}{display line}
\draw[ar] (gl.east) -- (dl.west);
\TM{pfex}{1098}{766.1}{41.5}{21.2}{exit}
\draw[ar] (dl.north) -- (pfex.south);

% ---------------- void markSrt ----------------
\TM[\FT]{msd}{891.2}{838.6}{83.7}{25.5}{void markSrt(int\\a[],int n)}
\BX{mi0}{859.7}{881.8}{30.9}{19.4}{i=0}
\draw[ar] (msd.south) -- ++(0,10) -| (mi0.north);
\DM{min}{917.1}{881.8}{41.2}{25.4}{i<n-1}
\draw[ar] (mi0.east) -- (min.west);
\TM{mex}{982.8}{974.6}{51.5}{25.7}{Exit}
\draw[ar] (min.north) -- (917.1,858.3) -| (mex.north);
\BX{mj}{917.1}{918.6}{30.7}{19}{j=i+1}
\draw[ar] (min.south) -- (mj.north);
\DM{mjn}{917.1}{954.9}{40.2}{25.4}{j<n}
\draw[ar] (mj.south) -- (mjn.north);
\BX{mipp}{958.6}{918.6}{30.4}{19.7}{i++}
\draw[ar] (mjn.east) -| (mipp.south);
\draw[ar] (mipp.north) |- (min.east);
\DM[\FS]{mgt}{859.7}{954.9}{41.2}{25.4}{a[i]>a[j]}
\draw[ar] (mjn.west) -- (mgt.east);
\BX[\FS]{mtmp}{856.8}{913.8}{46.9}{28.6}{int temp=a[i];\\a[i]=a[j];\\a[j]=temp;}
\draw[ar] (mgt.north) -- (mgt.north |- mtmp.south);
\BX{mjpp}{832.9}{987.6}{30.9}{19.7}{j++}
\draw[ar] (mgt.west) -| (mjpp.north);
\draw[ar] (mtmp.west) -| ([xshift=-6.7pt]mjpp.north);
\draw[ar] (mjpp.east) -| (mjn.south);
\LB{930}{862.8}{false}\LB{906}{898.4}{true}\LB{941.6}{948.2}{false}
\LB{889.5}{948.9}{true}\LB{846.3}{936.6}{true}\LB{842.4}{966.1}{false}

% ---------------- void fileAry ----------------
\TM[\FT]{fad2}{1198.6}{551.9}{110.2}{25.8}{void fileAry(const int\\a[],int n,int perLine)}
\BX{fadv}{1207.6}{604.9}{52.1}{38.8}{Declare\\Variables\\ofstream\\output}
\draw[ar] (fad2.south) -- ++(0,10.6) -| (fadv.north);
\BX{fopen}{1211.4}{667}{59.6}{47.2}{Open\\random.txt to\\read\\output.open\\("random.txt")}
\draw[ar] (fadv.south) -- ++(0,9.5) -| (fopen.north);
\BX{fi0b}{1281.3}{655.1}{36}{15.7}{int i=0;}
\draw[ar] (fopen.east) -- ++(8,0) |- (fi0b.west);
\DM{fib}{1339.6}{634.5}{35.4}{25.6}{i<n}
\draw[ar] (fi0b.east) -- ++(8,0) |- (fib.west);
\BX[\FS]{fcl}{1279}{607}{54.2}{20.7}{close file\\output.close();}
\draw[ar] (fib.north) |- (fcl.east);
\TM{fex2}{1279}{564.8}{41.2}{21.3}{exit}
\draw[ar] (fcl.north) -- (fex2.south);
\DM{flt}{1372.7}{692.9}{35.4}{25.4}{a[i]<10}
\draw[ar] (fib.south) -- ++(0,16.3) -| (flt.north);
\IO[\FS]{fw1}{1303.4}{692.9}{76}{26}{output<<setw(1)\\<<a[i]<<"~~";}
\draw[ar] (flt.west) -- (fw1.east);
\IO[\FS]{fw2}{1372.5}{729.1}{76.3}{26}{output<<setw(2)\\<<a[i]<<"~~";}
\draw[ar] (flt.south) -- (fw2.north);
\DM[\FS]{fpl}{1295.9}{752.6}{51}{47}{i\%perLine\\==\\(perLine-1}
\draw[ar] (fw2.west) -- (1320.1,729.1) |- (1295.9,718.6) -- (fpl.north);
\draw[ar] (fw1.west) -- (1256.8,692.9) |- (fpl.west);
\IO[\FS]{fend}{1386.9}{766.7}{74.7}{21.7}{output<<endl;}
\draw[ar] (fpl.east) -- (1339.6,752.6) |- (fend.west);
\BX{fipp2}{1432.7}{685}{36.2}{15.9}{i++;}
\draw[ar] (fend.east) -| (fipp2.south);
\draw[ar] (fipp2.north) |- (fib.east);
\draw[nl] (fpl.south) |- (1432.7,784.6) -- (1432.7,768);
\LB{1350}{617.4}{false}\LB{1356.5}{655.1}{true}\LB{1353.1}{683.9}{true}
\LB{1387}{709.4}{false}\LB{1324}{761.1}{true}\LB{1313.6}{791.7}{false}
\end{tikzpicture}
\end{document}
